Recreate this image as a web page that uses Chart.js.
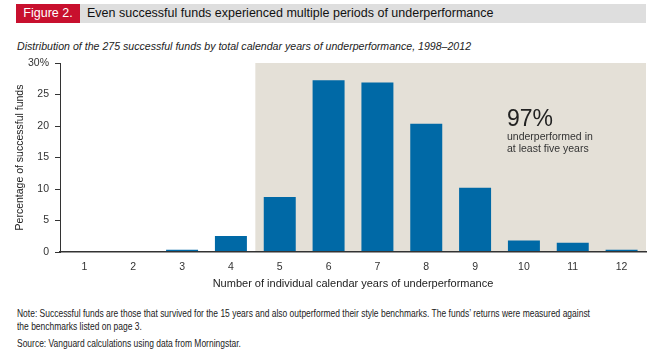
<!DOCTYPE html>
<html>
<head>
<meta charset="utf-8">
<script src="https://cdn.jsdelivr.net/npm/chart.js@4.4.1/dist/chart.umd.min.js"></script>
<style>
  html, body { margin: 0; padding: 0; background: #fff; }
  body { width: 662px; height: 361px; position: relative; overflow: hidden;
         font-family: "Liberation Sans", Arial, sans-serif; color: #222; }
  .fig-tag { position: absolute; left: 16px; top: 4px; width: 64px; height: 19px;
             background: #c8102e; color: #fff; font-size: 12.5px; line-height: 19px;
             text-align: center; }
  .fig-bar { position: absolute; left: 80px; top: 4px; width: 566px; height: 19px;
             background: #dedede; }
  .fig-title { position: absolute; left: 87px; top: 4px; line-height: 19px;
               font-size: 12.5px; color: #111; white-space: nowrap; }
  .subtitle { position: absolute; left: 17px; top: 40px; font-size: 10.6px;
              font-style: italic; color: #222; white-space: nowrap; }
  #chart-wrap { position: absolute; left: 0; top: 55px; width: 662px; height: 240px; }
  .callout { position: absolute; left: 507px; top: 107px; color: #222; }
  .callout .big { font-size: 23px; line-height: 23px; }
  .callout .small { font-size: 10.5px; line-height: 12px; color: #333; }
  .note { position: absolute; left: 17px; font-size: 11px; color: #222; white-space: nowrap;
          transform: scaleX(0.77); transform-origin: 0 0; }
</style>
</head>
<body>
<div class="fig-tag">Figure 2.</div>
<div class="fig-bar"></div>
<div class="fig-title">Even successful funds experienced multiple periods of underperformance</div>
<div class="subtitle">Distribution of the 275 successful funds by total calendar years of underperformance, 1998–2012</div>
<div id="chart-wrap"><canvas id="funds-chart"></canvas></div>
<div class="callout">
  <div class="big">97%</div>
  <div class="small">underperformed in<br>at least five years</div>
</div>
<div class="note" style="top:307px">Note: Successful funds are those that survived for the 15 years and also outperformed their style benchmarks. The funds’ returns were measured against</div>
<div class="note" style="top:320px">the benchmarks listed on page 3.</div>
<div class="note" style="top:337px">Source: Vanguard calculations using data from Morningstar.</div>

<script>
// years of underperformance (x categories)
const yearLabels = ['1', '2', '3', '4', '5', '6', '7', '8', '9', '10', '11', '12'];
// percentage of the 275 successful funds
const fundShares = [0, 0, 0.36, 2.55, 8.73, 27.27, 26.91, 20.36, 10.18, 1.82, 1.45, 0.36];
const yTicks = [0, 5, 10, 15, 20, 25, 30];
// shaded band starts at this category (5 years and more)
const shadeFrom = '5';

const barBlue = '#0069a6';
const shadeColor = '#e4e0d7';

// Shade the "five or more years" region behind the bars
const shadePlugin = {
  id: 'shadeBand',
  beforeDatasetsDraw(chart) {
    const { ctx, chartArea, scales: { x } } = chart;
    const idx = yearLabels.indexOf(shadeFrom);
    const left = (x.getPixelForTick(idx - 1) + x.getPixelForTick(idx)) / 2;
    ctx.save();
    ctx.fillStyle = shadeColor;
    ctx.fillRect(left, chartArea.top, chartArea.right - left, chartArea.bottom - chartArea.top);
    ctx.restore();
  }
};

const ctx = document.getElementById('funds-chart').getContext('2d');
new Chart(ctx, {
  type: 'bar',
  data: {
    labels: yearLabels,
    datasets: [{
      data: fundShares,
      backgroundColor: barBlue,
      barPercentage: 0.655,
      categoryPercentage: 1
    }]
  },
  options: {
    responsive: true,
    maintainAspectRatio: false,
    animation: false,
    layout: { padding: { top: 8, right: 16, left: 0, bottom: 0 } },
    plugins: { legend: { display: false }, tooltip: { enabled: false } },
    scales: {
      x: {
        grid: { display: false, drawTicks: false },
        border: { display: true, color: '#333', width: 1.5, z: 1 },
        ticks: { color: '#333', font: { family: 'Liberation Sans', size: 10.5 }, padding: 9 },
        title: { display: true, text: 'Number of individual calendar years of underperformance',
                 color: '#222', font: { family: 'Liberation Sans', size: 11 }, padding: { top: 6 } },
        afterFit(scale) {
          scale.height = 43;
          scale.paddingLeft = 0;
          scale.paddingRight = 0;
        }
      },
      y: {
        min: 0,
        max: 30,
        afterBuildTicks(scale) { scale.ticks = yTicks.map(v => ({ value: v })); },
        grid: { drawOnChartArea: false, drawTicks: true, tickLength: 5, color: '#333' },
        border: { display: true, color: '#333', width: 1 },
        ticks: {
          color: '#333',
          font: { family: 'Liberation Sans', size: 10.5 },
          padding: 6,
          callback: v => v === 30 ? '30%' : String(v)
        },
        title: { display: true, text: 'Percentage of successful funds',
                 color: '#222', font: { family: 'Liberation Sans', size: 10.5 },
                 padding: { top: 14, bottom: 0 } },
        afterFit(scale) {
          scale.width = 60;
          scale.paddingTop = 0;
          scale.paddingBottom = 0;
        }
      }
    }
  },
  plugins: [shadePlugin]
});
</script>
</body>
</html>
